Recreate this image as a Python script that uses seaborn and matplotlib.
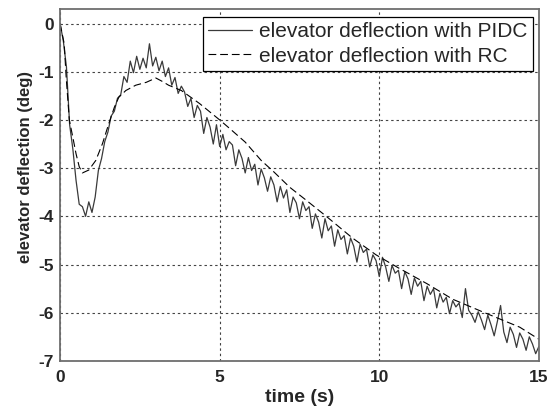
import numpy as np
import pandas as pd
import matplotlib
matplotlib.use("Agg")
import matplotlib.pyplot as plt
import seaborn as sns

# time axis for the PIDC response (s)
t_pidc = [round(0.1 * i, 1) for i in range(151)]

# elevator deflection with PIDC (deg)
defl_pidc = [
    0.00, -0.35, -0.90, -2.10, -2.60, -3.25, -3.75, -3.80, -4.00, -3.70,
    -3.92, -3.60, -3.05, -2.80, -2.45, -2.25, -1.92, -1.82, -1.55, -1.48,
    -1.10, -1.22, -0.78, -1.02, -0.68, -0.95, -0.72, -0.92, -0.42, -0.88,
    -0.70, -0.98, -0.78, -1.10, -0.92, -1.28, -1.12, -1.45, -1.30, -1.42,
    -1.72, -1.55, -1.95, -1.70, -1.82, -2.28, -1.95, -2.15, -2.50, -2.10,
    -2.55, -2.30, -2.62, -2.45, -2.52, -2.95, -2.62, -2.80, -3.10, -2.78,
    -3.05, -2.92, -3.35, -3.02, -3.20, -3.48, -3.18, -3.35, -3.70, -3.38,
    -3.62, -3.45, -3.92, -3.60, -3.72, -4.05, -3.70, -3.88, -3.80, -4.25,
    -3.95, -4.12, -4.45, -4.05, -4.30, -4.20, -4.62, -4.28, -4.48, -4.40,
    -4.78, -4.45, -4.62, -4.95, -4.58, -4.75, -4.68, -5.05, -4.80, -4.92,
    -5.25, -4.85, -5.05, -5.35, -5.02, -5.18, -5.12, -5.50, -5.15, -5.30,
    -5.62, -5.28, -5.45, -5.35, -5.75, -5.45, -5.62, -5.50, -5.90, -5.60,
    -5.78, -5.68, -6.02, -5.75, -5.88, -5.80, -6.10, -5.50, -5.95, -6.05,
    -6.20, -5.98, -6.15, -6.35, -6.05, -6.25, -6.48, -6.18, -5.85, -6.40,
    -6.62, -6.30, -6.45, -6.72, -6.42, -6.55, -6.78, -6.50, -6.65, -6.85,
    -6.70,
]

# time axis and elevator deflection with RC
t_rc = [0.0, 0.13, 0.19, 0.29, 0.4, 0.5, 0.6, 0.7, 0.9, 1.12, 1.33, 1.53,
        1.7, 1.84, 2.06, 2.37, 2.7, 3.0, 3.2, 3.4, 3.8, 4.37, 5.0, 5.3,
        5.8, 6.3, 6.7, 7.2, 7.7, 8.34, 9.16, 9.9, 10.6, 11.5, 12.3, 13.3,
        14.4, 15.0]
defl_rc = [0.0, -0.42, -1.10, -2.00, -2.36, -2.70, -2.97, -3.10, -3.04,
           -2.84, -2.49, -2.07, -1.74, -1.53, -1.39, -1.28, -1.22, -1.13,
           -1.20, -1.28, -1.39, -1.66, -2.00, -2.17, -2.46, -2.84, -3.08,
           -3.40, -3.66, -4.00, -4.45, -4.80, -5.07, -5.40, -5.72, -6.00,
           -6.30, -6.55]

labels = ["elevator deflection with PIDC", "elevator deflection with RC"]
x_ticks = [0, 5, 10, 15]
y_ticks = [-7, -6, -5, -4, -3, -2, -1, 0]

sns.set_style("white")
plt.rcParams["font.family"] = ["Liberation Sans", "DejaVu Sans"]

df_pidc = pd.DataFrame({"t": t_pidc, "d": defl_pidc})
df_rc = pd.DataFrame({"t": t_rc, "d": defl_rc})

fig = plt.figure(figsize=(5.51, 4.12), dpi=100)
ax = fig.add_axes([0.109, 0.124, 0.869, 0.854])

sns.lineplot(data=df_pidc, x="t", y="d", ax=ax, color="#3a3a3a",
             linewidth=0.9, estimator=None, sort=False, label=labels[0])
sns.lineplot(data=df_rc, x="t", y="d", ax=ax, color="black",
             linewidth=0.8, estimator=None, sort=False, label=labels[1],
             linestyle=(0, (7, 3.5)))

ax.set_xlim(0, 15)
ax.set_ylim(-7, 0.3)
ax.set_xticks(x_ticks)
ax.set_yticks(y_ticks)
ax.set_xticklabels([str(v) for v in x_ticks], fontsize=12.5, fontweight="bold")
ax.set_yticklabels([str(v) for v in y_ticks], fontsize=12.5, fontweight="bold")
ax.tick_params(direction="in", length=3, width=0.8, color="#666666")
ax.tick_params(axis="x", pad=6.5)
ax.tick_params(axis="y", pad=4.5)

ax.grid(True, color="#444444", linestyle=(0, (2.2, 2.6)), linewidth=0.8)
for s in ax.spines.values():
    s.set_color("#6e6e6e")
    s.set_linewidth(1.3)

ax.set_xlabel("time (s)", fontsize=14, fontweight="bold", labelpad=3)
ax.set_ylabel("elevator deflection (deg)", fontsize=12, fontweight="bold")
ax.yaxis.set_label_coords(-0.056, 0.551)

leg = ax.legend(loc="upper right", bbox_to_anchor=(0.9875, 0.977), fontsize=15,
                frameon=True, fancybox=False, framealpha=1, edgecolor="black",
                handlelength=2.1, handletextpad=0.35, borderpad=0.25,
                labelspacing=0.25, borderaxespad=0)
leg.get_frame().set_linewidth(0.9)

fig.savefig("out.png", dpi=100)
